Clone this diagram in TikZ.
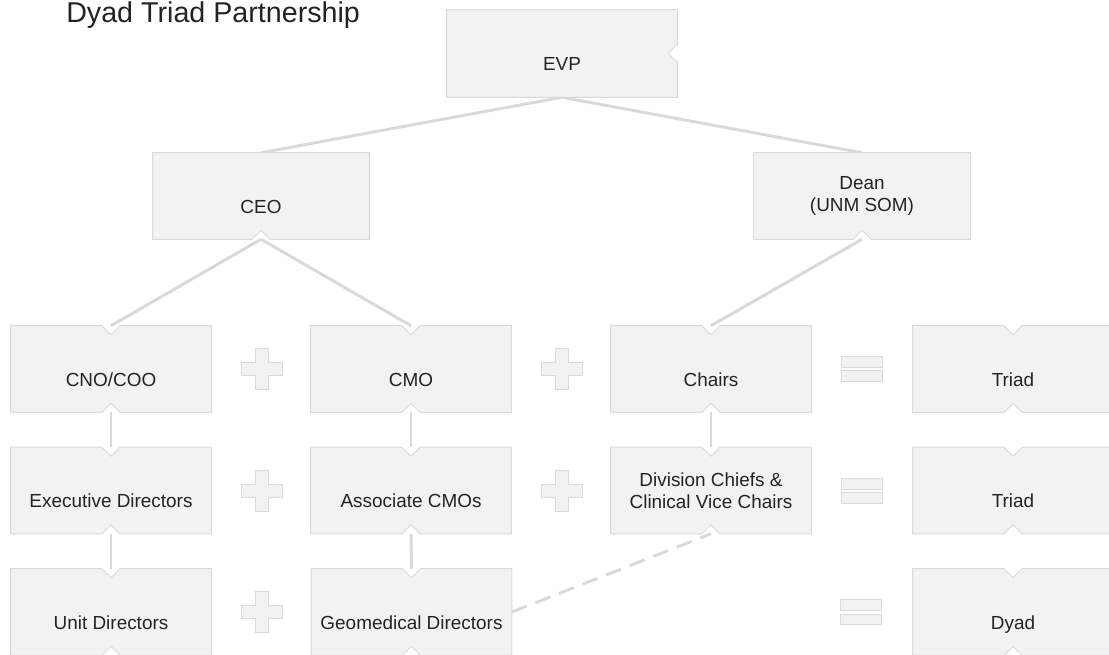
\documentclass[tikz,border=0pt]{standalone}
\usepackage{fontspec}
\setmainfont{Liberation Sans}
\usetikzlibrary{calc}

\definecolor{boxfill}{RGB}{242,242,242}
\definecolor{boxedge}{RGB}{218,218,218}
\definecolor{linkgray}{RGB}{217,217,217}
\definecolor{textgray}{RGB}{35,35,35}

% connectors sit under the boxes, so they only show through the notches
\pgfdeclarelayer{links}
\pgfdeclarelayer{boxes}
\pgfsetlayers{links,boxes,main}

\tikzset{
	role/.style={minimum width=150pt, minimum height=64.5pt, inner sep=0pt, text=textgray,
		font=\fontsize{14.2}{16.5}\selectfont, text height=25.5pt, text depth=0pt},
	role2/.style={minimum width=150pt, minimum height=64.5pt, inner sep=0pt, text=textgray,
		font=\fontsize{14.2}{16.5}\selectfont, align=center},
	link/.style={draw=linkgray, line width=2.2pt},
	sign/.style={fill=boxfill, draw=boxedge, line width=0.75pt}
}

% outline of a box with notches: #2 top, #3 right, #4 bottom (0 = none)
\newcommand{\roleoutline}[4]{%
	\begin{pgfonlayer}{boxes}
	\filldraw[fill=boxfill, draw=boxedge, line width=0.75pt]
		(#1.north west) -- ($(#1.north)+(-9,0)$) -- ($(#1.north)+(0,#2)$) -- ($(#1.north)+(9,0)$)
		-- (#1.north east) -- ($(#1.east)+(0,-9)$) -- ($(#1.east)+(-#3,0)$) -- ($(#1.east)+(0,9)$)
		-- (#1.south east) -- ($(#1.south)+(9,0)$) -- ($(#1.south)+(0,-#4)$) -- ($(#1.south)+(-9,0)$)
		-- (#1.south west) -- cycle;
	\end{pgfonlayer}}

\newcommand{\plussign}[2]{%
	\filldraw[sign] (#1-6.5,#2-20.5) -- (#1+6.5,#2-20.5) -- (#1+6.5,#2-6.5) -- (#1+20.5,#2-6.5)
		-- (#1+20.5,#2+6.5) -- (#1+6.5,#2+6.5) -- (#1+6.5,#2+20.5) -- (#1-6.5,#2+20.5)
		-- (#1-6.5,#2+6.5) -- (#1-20.5,#2+6.5) -- (#1-20.5,#2-6.5) -- (#1-6.5,#2-6.5) -- cycle;}

\newcommand{\equalsign}[2]{%
	\filldraw[sign] (#1-20.5,#2-12.5) rectangle (#1+20.5,#2-1.5);
	\filldraw[sign] (#1-20.5,#2+2) rectangle (#1+20.5,#2+12.5);}

\begin{document}
\begin{tikzpicture}[x=0.75pt, y=-0.75pt]
	\useasboundingbox (0,0) rectangle (1109,654);

	\node[anchor=base west, inner sep=0pt, text=textgray, font=\fontsize{21.5}{24}\selectfont] (title) at (66,22) {Dyad Triad Partnership};

	% top of the tree
	\node[role, minimum width=172.5pt, minimum height=65.25pt] (evp) at (562,53.5) {EVP};
	\node[role, minimum width=162pt] (ceo) at (261,196) {CEO};
	\node[role2, minimum width=162pt] (dean) at (862,196) {Dean\\(UNM SOM)};

	% first row
	\node[role] (cno) at (111,369) {CNO/COO};
	\node[role] (cmo) at (411,369) {CMO};
	\node[role] (chairs) at (711,369) {Chairs};
	\node[role] (triad1) at (1013,369) {Triad};

	% second row
	\node[role] (exec) at (111,490.5) {Executive Directors};
	\node[role] (acmo) at (411,490.5) {Associate CMOs};
	\node[role2] (chiefs) at (711,490.5) {Division Chiefs \&\\Clinical Vice Chairs};
	\node[role] (triad2) at (1013,490.5) {Triad};

	% third row
	\node[role] (unit) at (111,612) {Unit Directors};
	\node[role] (geo) at (411.5,612) {Geomedical Directors};
	\node[role] (dyad) at (1013,612) {Dyad};

	\roleoutline{evp}{0}{9}{0}
	\roleoutline{ceo}{0}{0}{9}
	\roleoutline{dean}{0}{0}{9}
	\foreach \n in {cno,cmo,chairs,triad1,exec,acmo,chiefs,triad2,unit,geo,dyad}
		{\roleoutline{\n}{9}{0}{9}}

	\begin{pgfonlayer}{links}
	\draw[link] (evp.south) -- (ceo.north);
	\draw[link] (evp.south) -- (dean.north);
	\draw[link] (ceo.south) -- (cno.north);
	\draw[link] (ceo.south) -- (cmo.north);
	\draw[link] (dean.south) -- (chairs.north);
	\draw[link] (cno.south) -- (exec.north);
	\draw[link] (exec.south) -- (unit.north);
	\draw[link] (cmo.south) -- (acmo.north);
	\draw[link] (acmo.south) -- (geo.north);
	\draw[link] (chairs.south) -- (chiefs.north);
	\draw[link, dash pattern=on 12pt off 7pt] (geo.east) -- (chiefs.south);
	\end{pgfonlayer}

	% plus and equal signs between the boxes
	\plussign{261.5}{368.5}
	\plussign{561.5}{368.5}
	\equalsign{862}{368.5}
	\plussign{261.5}{490.5}
	\plussign{561.5}{490.5}
	\equalsign{862}{490.5}
	\plussign{261.5}{612}
	\equalsign{861}{612}
\end{tikzpicture}
\end{document}
